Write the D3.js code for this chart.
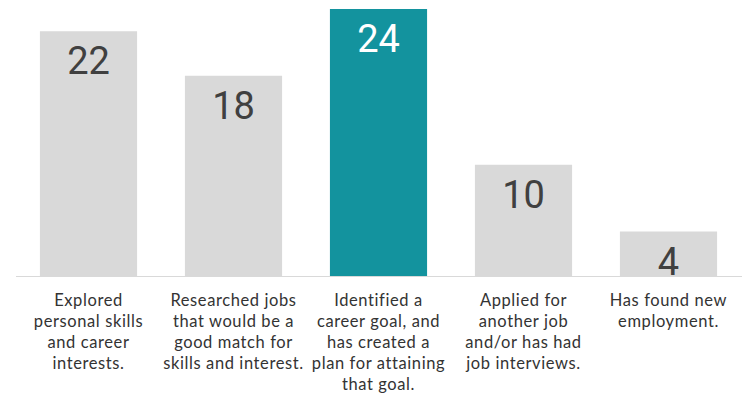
<!DOCTYPE html>
<html>
<head>
<meta charset="utf-8">
<script src="https://cdn.jsdelivr.net/npm/d3@7"></script>
<style>
  html, body { margin: 0; padding: 0; background: #fff; }
  svg { display: block; }
</style>
</head>
<body>
<svg id="chart" width="748" height="397"></svg>
<script>
// Career-progress outcomes: count of participants per milestone
const categories = [
  ["Explored", "personal skills", "and career", "interests."],
  ["Researched jobs", "that would be a", "good match for", "skills and interest."],
  ["Identified a", "career goal, and", "has created a", "plan for attaining", "that goal."],
  ["Applied for", "another job", "and/or has had", "job interviews."],
  ["Has found new", "employment."]
];
const values = [22, 18, 24, 10, 4];
const highlighted = [false, false, true, false, false];

const svg = d3.select("#chart");

const x = d3.scaleBand()
  .domain(d3.range(values.length))
  .range([16, 741])
  .paddingInner(0.33)
  .paddingOuter(0.165);

const y = d3.scaleLinear()
  .domain([0, 24])
  .range([276, 9]);

// Bars
svg.selectAll("rect.bar")
  .data(values)
  .join("rect")
  .attr("class", "bar")
  .attr("x", (d, i) => x(i))
  .attr("y", d => y(d))
  .attr("width", x.bandwidth())
  .attr("height", d => y(0) - y(d))
  .attr("fill", (d, i) => highlighted[i] ? "#13939e" : "#d9d9d9");

// Baseline
svg.append("line")
  .attr("x1", 16).attr("x2", 742)
  .attr("y1", y(0) + 0.5).attr("y2", y(0) + 0.5)
  .attr("stroke", "#d9d9d9")
  .attr("stroke-width", 1);

// Value labels inside the top of each bar
svg.selectAll("text.value")
  .data(values)
  .join("text")
  .attr("class", "value")
  .attr("x", (d, i) => x(i) + x.bandwidth() / 2)
  .attr("y", d => y(d) + 43)
  .attr("text-anchor", "middle")
  .attr("font-family", "Roboto, 'Noto Sans', sans-serif")
  .attr("font-size", 38)
  .attr("fill", (d, i) => highlighted[i] ? "#ffffff" : "#404040")
  .text(d => d);

// Category labels below the axis
const labels = svg.selectAll("text.cat")
  .data(categories)
  .join("text")
  .attr("class", "cat")
  .attr("text-anchor", "middle")
  .attr("font-family", "Lato, 'Open Sans', sans-serif")
  .attr("font-size", 16.5)
  .attr("letter-spacing", 0.6)
  .attr("fill", "#333333");

labels.selectAll("tspan")
  .data((d, i) => d.map(line => ({ line, i })))
  .join("tspan")
  .attr("x", d => x(d.i) + x.bandwidth() / 2)
  .attr("y", (d, j) => 306 + j * 21)
  .text(d => d.line);
</script>
</body>
</html>
